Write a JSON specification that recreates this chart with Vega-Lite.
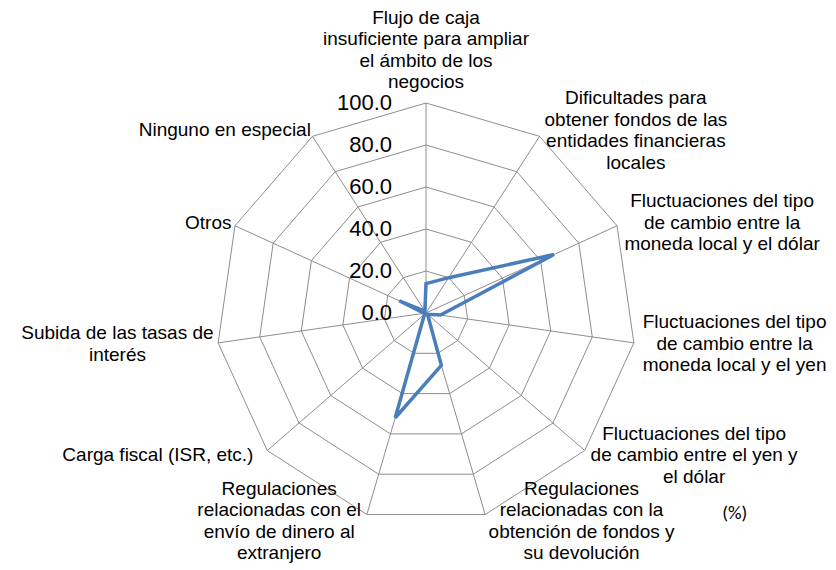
{
  "$schema": "https://vega.github.io/schema/vega-lite/v6.json",
  "width": 836,
  "height": 570,
  "autosize": {"type": "none"},
  "padding": 0,
  "background": "white",
  "config": {"view": {"stroke": null}, "font": "Liberation Sans"},
  "datasets": {
    "cats": [
      {"label": "Flujo de caja\ninsuficiente para ampliar\nel ámbito de los\nnegocios", "value": 14},
      {"label": "Dificultades para\nobtener fondos de las\nentidades financieras\nlocales", "value": 20},
      {"label": "Fluctuaciones del tipo\nde cambio entre la\nmoneda local y el dólar", "value": 67},
      {"label": "Fluctuaciones del tipo\nde cambio entre la\nmoneda local y el yen", "value": 7},
      {"label": "Fluctuaciones del tipo\nde cambio entre el yen y\nel dólar", "value": 1},
      {"label": "Regulaciones\nrelacionadas con la\nobtención de fondos y\nsu devolución", "value": 26},
      {"label": "Regulaciones\nrelacionadas con el\nenvío de dinero al\nextranjero", "value": 52},
      {"label": "Carga fiscal (ISR, etc.)", "value": 1},
      {"label": "Subida de las tasas de\ninterés", "value": 1},
      {"label": "Otros", "value": 14},
      {"label": "Ninguno en especial", "value": 1}
    ],
    "levels": [{"lv": 0}, {"lv": 20}, {"lv": 40}, {"lv": 60}, {"lv": 80}, {"lv": 100}],
    "note": [{"t": "(%)"}]
  },
  "layer": [
    {
      "data": {"name": "cats"},
      "transform": [
        {"window": [{"op": "row_number", "as": "i"}]},
        {"calculate": "2*PI*(datum.i-1)/11", "as": "ang"},
        {"calculate": "[20,40,60,80,100]", "as": "lv"},
        {"flatten": ["lv"]},
        {"calculate": "datum.lv*sin(datum.ang)", "as": "x"},
        {"calculate": "datum.lv*cos(datum.ang)", "as": "y"}
      ],
      "mark": {"type": "line", "interpolate": "linear-closed", "stroke": "#8e8e8e", "strokeWidth": 1},
      "encoding": {
        "x": {"field": "x", "type": "quantitative", "scale": {"domain": [-202.857, 195.238], "nice": false, "zero": false}, "axis": null},
        "y": {"field": "y", "type": "quantitative", "scale": {"domain": [-122.381, 149.048], "nice": false, "zero": false}, "axis": null},
        "detail": {"field": "lv", "type": "nominal"},
        "order": {"field": "i", "type": "quantitative"}
      }
    },
    {
      "data": {"name": "cats"},
      "transform": [
        {"window": [{"op": "row_number", "as": "i"}]},
        {"calculate": "2*PI*(datum.i-1)/11", "as": "ang"},
        {"calculate": "100*sin(datum.ang)", "as": "x"},
        {"calculate": "100*cos(datum.ang)", "as": "y"}
      ],
      "mark": {"type": "rule", "stroke": "#8e8e8e", "strokeWidth": 1},
      "encoding": {
        "x": {"field": "x", "type": "quantitative", "scale": {"domain": [-202.857, 195.238], "nice": false, "zero": false}, "axis": null},
        "y": {"field": "y", "type": "quantitative", "scale": {"domain": [-122.381, 149.048], "nice": false, "zero": false}, "axis": null},
        "x2": {"datum": 0},
        "y2": {"datum": 0}
      }
    },
    {
      "data": {"name": "cats"},
      "transform": [
        {"window": [{"op": "row_number", "as": "i"}]},
        {"calculate": "2*PI*(datum.i-1)/11", "as": "ang"},
        {"calculate": "datum.value*sin(datum.ang)", "as": "x"},
        {"calculate": "datum.value*cos(datum.ang)", "as": "y"}
      ],
      "mark": {"type": "line", "interpolate": "linear-closed", "stroke": "#4a7ebb", "strokeWidth": 3.5},
      "encoding": {
        "x": {"field": "x", "type": "quantitative", "scale": {"domain": [-202.857, 195.238], "nice": false, "zero": false}, "axis": null},
        "y": {"field": "y", "type": "quantitative", "scale": {"domain": [-122.381, 149.048], "nice": false, "zero": false}, "axis": null},
        "order": {"field": "i", "type": "quantitative"}
      }
    },
    {
      "data": {"name": "levels"},
      "mark": {"type": "text", "align": "right", "baseline": "middle", "dx": -34, "fontSize": 22, "color": "#000000"},
      "encoding": {
        "x": {"datum": 0, "type": "quantitative", "scale": {"domain": [-202.857, 195.238], "nice": false, "zero": false}, "axis": null},
        "y": {"field": "lv", "type": "quantitative", "scale": {"domain": [-122.381, 149.048], "nice": false, "zero": false}, "axis": null},
        "text": {"field": "lv", "type": "quantitative", "format": ".1f"}
      }
    },
    {
      "data": {"name": "cats"},
      "transform": [
        {"window": [{"op": "row_number", "as": "i"}]},
        {"filter": "datum.i >= 2 && datum.i <= 6"},
        {"calculate": "2*PI*(datum.i-1)/11", "as": "ang"},
        {"calculate": "split(datum.label, '\\n')", "as": "parts"},
        {"calculate": "max(length(datum.parts[0]||''), length(datum.parts[1]||''), length(datum.parts[2]||''), length(datum.parts[3]||''))*4.35", "as": "hw"},
        {"calculate": "100*sin(datum.ang) + (5 + datum.hw)/2.1", "as": "x"},
        {"calculate": "100*cos(datum.ang) + ((length(datum.parts)-1)*10.75 + 7*cos(datum.ang))/2.1", "as": "y"}
      ],
      "mark": {"type": "text", "align": "center", "baseline": "middle", "fontSize": 19, "lineHeight": 21.5, "lineBreak": "\n", "color": "#000000"},
      "encoding": {
        "x": {"field": "x", "type": "quantitative", "scale": {"domain": [-202.857, 195.238], "nice": false, "zero": false}, "axis": null},
        "y": {"field": "y", "type": "quantitative", "scale": {"domain": [-122.381, 149.048], "nice": false, "zero": false}, "axis": null},
        "text": {"field": "label", "type": "nominal"}
      }
    },
    {
      "data": {"name": "cats"},
      "transform": [
        {"window": [{"op": "row_number", "as": "i"}]},
        {"filter": "datum.i >= 7"},
        {"calculate": "2*PI*(datum.i-1)/11", "as": "ang"},
        {"calculate": "split(datum.label, '\\n')", "as": "parts"},
        {"calculate": "max(length(datum.parts[0]||''), length(datum.parts[1]||''), length(datum.parts[2]||''), length(datum.parts[3]||''))*4.35", "as": "hw"},
        {"calculate": "100*sin(datum.ang) - (5 + datum.hw)/2.1", "as": "x"},
        {"calculate": "100*cos(datum.ang) + ((length(datum.parts)-1)*10.75 + 7*cos(datum.ang))/2.1", "as": "y"}
      ],
      "mark": {"type": "text", "align": "center", "baseline": "middle", "fontSize": 19, "lineHeight": 21.5, "lineBreak": "\n", "color": "#000000"},
      "encoding": {
        "x": {"field": "x", "type": "quantitative", "scale": {"domain": [-202.857, 195.238], "nice": false, "zero": false}, "axis": null},
        "y": {"field": "y", "type": "quantitative", "scale": {"domain": [-122.381, 149.048], "nice": false, "zero": false}, "axis": null},
        "text": {"field": "label", "type": "nominal"}
      }
    },
    {
      "data": {"name": "cats"},
      "transform": [
        {"window": [{"op": "row_number", "as": "i"}]},
        {"filter": "datum.i == 1"},
        {"calculate": "split(datum.label, '\\n')", "as": "parts"},
        {"calculate": "0", "as": "x"},
        {"calculate": "100 + (21 + (length(datum.parts)-1)*21.5)/2.1", "as": "y"}
      ],
      "mark": {"type": "text", "align": "center", "baseline": "middle", "fontSize": 19, "lineHeight": 21.5, "lineBreak": "\n", "color": "#000000"},
      "encoding": {
        "x": {"field": "x", "type": "quantitative", "scale": {"domain": [-202.857, 195.238], "nice": false, "zero": false}, "axis": null},
        "y": {"field": "y", "type": "quantitative", "scale": {"domain": [-122.381, 149.048], "nice": false, "zero": false}, "axis": null},
        "text": {"field": "label", "type": "nominal"}
      }
    },
    {
      "data": {"name": "note"},
      "mark": {"type": "text", "align": "center", "baseline": "middle", "fontSize": 19, "font": "Carlito, Liberation Sans", "color": "#000000"},
      "encoding": {
        "x": {"datum": 147, "type": "quantitative", "scale": {"domain": [-202.857, 195.238], "nice": false, "zero": false}, "axis": null},
        "y": {"datum": -95.2, "type": "quantitative", "scale": {"domain": [-122.381, 149.048], "nice": false, "zero": false}, "axis": null},
        "text": {"field": "t", "type": "nominal"}
      }
    }
  ]
}
